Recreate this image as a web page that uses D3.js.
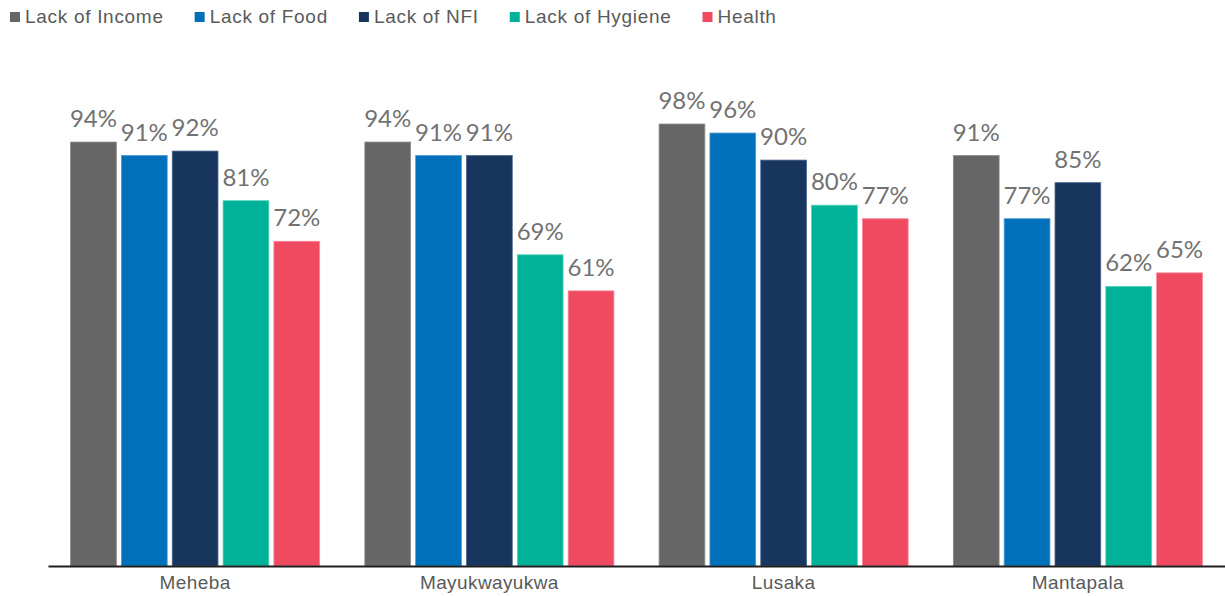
<!DOCTYPE html>
<html>
<head>
<meta charset="utf-8">
<script src="https://cdn.jsdelivr.net/npm/d3@7"></script>
<style>
  html, body { margin: 0; padding: 0; background: #fff; }
  svg { display: block; }
</style>
</head>
<body>
<svg id="chart" width="1225" height="596"></svg>
<script>
// Camps shown along the x axis
const camps = ["Meheba", "Mayukwayukwa", "Lusaka", "Mantapala"];
// Needs reported, one series each
const seriesNames = ["Lack of Income", "Lack of Food", "Lack of NFI", "Lack of Hygiene", "Health"];
const seriesColors = ["#666666", "#0070BA", "#18365D", "#00B398", "#EF4A60"];
const strokeColors = ["#8a8a8a", "#4a9ad6", "#4a6590", "#52d2bd", "#f7889a"];
// Percentages per camp, in series order
const lackIncome  = [94, 94, 98, 91];
const lackFood    = [91, 91, 96, 77];
const lackNFI     = [92, 91, 90, 85];
const lackHygiene = [81, 69, 80, 62];
const health      = [72, 61, 77, 65];
const seriesValues = [lackIncome, lackFood, lackNFI, lackHygiene, health];

const svg = d3.select("#chart");

const x0 = d3.scaleBand().domain(camps).range([48, 1225]).paddingInner(0).paddingOuter(0);
const inset = 22.6;
const x1 = d3.scaleBand().domain(seriesNames)
  .range([inset, x0.bandwidth() - inset]).paddingInner(0.1).paddingOuter(0);
const y = d3.scaleLinear().domain([0, 100]).range([566, 115]);

// Bars and value labels
const groups = svg.append("g").selectAll("g")
  .data(camps)
  .join("g")
  .attr("transform", d => `translate(${x0(d)},0)`);

groups.selectAll("rect")
  .data((c, ci) => seriesNames.map((s, si) => ({ s, si, v: seriesValues[si][ci] })))
  .join("rect")
  .attr("x", d => x1(d.s))
  .attr("y", d => y(d.v))
  .attr("width", x1.bandwidth())
  .attr("height", d => y(0) - y(d.v))
  .attr("fill", d => seriesColors[d.si])
  .attr("stroke", d => strokeColors[d.si])
  .attr("stroke-width", 0.8);

groups.selectAll("text")
  .data((c, ci) => seriesNames.map((s, si) => ({ s, si, v: seriesValues[si][ci] })))
  .join("text")
  .attr("x", d => x1(d.s) + x1.bandwidth() / 2)
  .attr("y", d => y(d.v) - 15)
  .attr("text-anchor", "middle")
  .attr("font-family", "Lato, sans-serif")
  .attr("font-size", 24)
  .attr("fill", "#727272")
  .text(d => d.v + "%");

// Category axis
const xAxis = svg.append("g")
  .attr("transform", `translate(0,${y(0)})`)
  .call(d3.axisBottom(x0).tickSize(0).tickPadding(10));
xAxis.select(".domain").attr("stroke", "#1e1e1e").attr("stroke-width", 2);
xAxis.selectAll("text")
  .attr("font-family", "'Liberation Sans', Arial, sans-serif")
  .attr("font-size", 19)
  .attr("letter-spacing", 0.4)
  .attr("fill", "#5a5a5a");

// Legend across the top
const legend = svg.append("g").attr("transform", "translate(10,0)");
let lx = 0;
seriesNames.forEach((name, i) => {
  const item = legend.append("g").attr("transform", `translate(${lx},0)`);
  item.append("rect")
    .attr("x", 0).attr("y", 12)
    .attr("width", 10).attr("height", 10)
    .attr("fill", seriesColors[i]);
  const t = item.append("text")
    .attr("x", 15).attr("y", 23)
    .attr("font-family", "'Liberation Sans', Arial, sans-serif")
    .attr("font-size", 19)
    .attr("letter-spacing", 0.7)
    .attr("fill", "#5a5a5a")
    .text(name);
  lx += 15 + t.node().getComputedTextLength() + 31;
});
</script>
</body>
</html>
